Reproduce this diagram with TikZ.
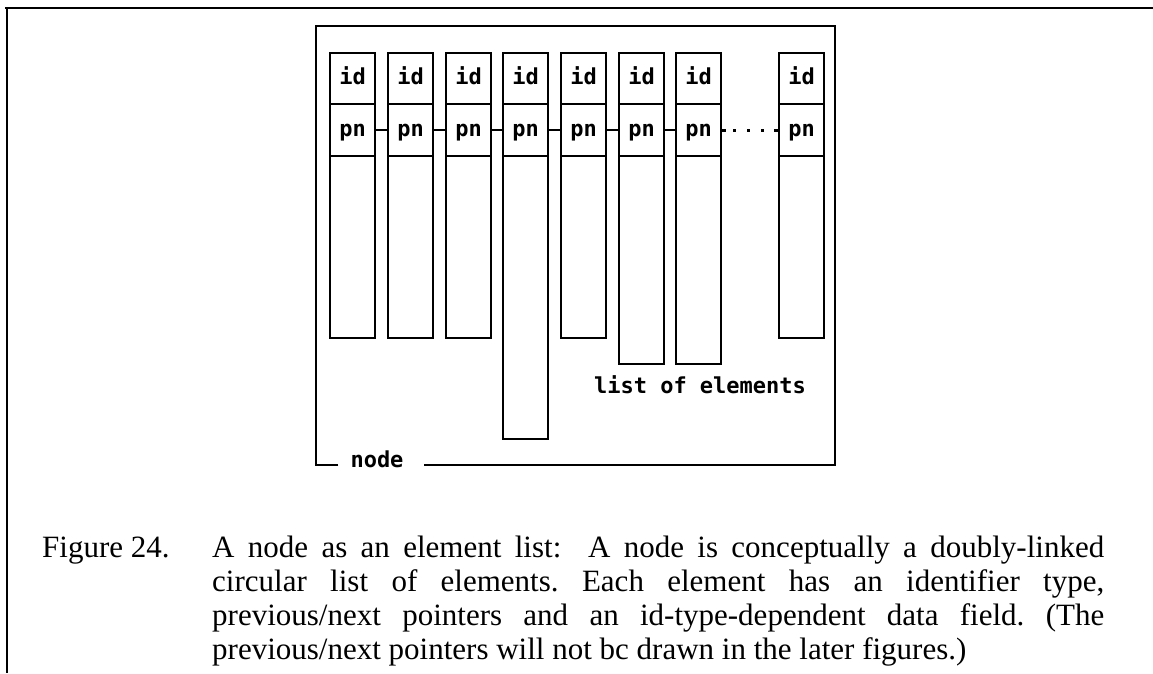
\documentclass[tikz,border=0pt]{standalone}
\usepackage{fontspec}
\setmainfont{Liberation Serif}
\newfontfamily\monofont{DejaVu Sans Mono}
\frenchspacing
\begin{document}
\begin{tikzpicture}[x=1pt,y=-1pt,
  frame/.style={line width=2.3pt},
  thin/.style={line width=1.4pt},
  cell/.style={draw, line width=2.3pt, minimum width=45pt, inner sep=0pt,
    anchor=north west, text height=17pt, text depth=5pt,
    font=\monofont\bfseries\fontsize{22}{26}\selectfont},
  lbl/.style={inner sep=0pt, font=\monofont\bfseries\fontsize{22}{26}\selectfont},
  capt/.style={inner sep=0pt, anchor=base west, font=\fontsize{31}{34}\selectfont}
]
\useasboundingbox (0,0) rectangle (1153,673);
% page frame
\draw[thin] (5,8) -- (1153,8);
\draw[thin] (7,8) -- (7,673);
% element columns
\foreach \i/\x/\b in {1/329/337,2/387/337,3/445/337,4/502/438,5/560/337,6/618/363,7/675/363,8/778/337}{
  \pgfmathsetmacro\h{\b-155}
  \node[cell, minimum height=51pt] (id\i) at (\x,52) {id};
  \node[cell, minimum height=52pt] (pn\i) at (\x,103) {pn};
  \node[cell, minimum height=\h pt] (d\i) at (\x,155) {};
}
% previous/next links
\foreach \i/\j in {1/2,2/3,3/4,4/5,5/6,6/7}{
  \draw[frame] (pn\i.east) -- (pn\j.west);
}
\draw[frame, line width=3pt, dash pattern=on 4pt off 7pt on 3pt off 11pt on 3pt off 11pt on 3pt off 9.5pt on 6pt]
  (pn7.east) -- (pn8.west);
% node frame
\node[lbl, anchor=mid] (nodelbl) at (377,465) {node};
\node[lbl, anchor=base] (listlbl) at (700,393) {list of elements};
\draw[frame] ([xshift=-12pt]nodelbl.west |- 0,465) -- (316,465) -- (316,26) -- (835,26) -- (835,465) -- ([xshift=20pt]nodelbl.east |- 0,465);
% caption
\node[capt] (fig) at (42,557) {Figure 24.};
\node[capt] (cap1) at (212,557) {\makebox[892pt][s]{A node as an element list:\ \ A node is conceptually a doubly-linked}};
\node[capt] (cap2) at (212,591) {\makebox[892pt][s]{circular list of elements. Each element has an identifier type,}};
\node[capt] (cap3) at (212,625) {\makebox[892pt][s]{previous/next pointers and an id-type-dependent data field. (The}};
\node[capt] (cap4) at (212,659) {previous/next pointers will not bc drawn in the later figures.)};
\end{tikzpicture}
\end{document}
